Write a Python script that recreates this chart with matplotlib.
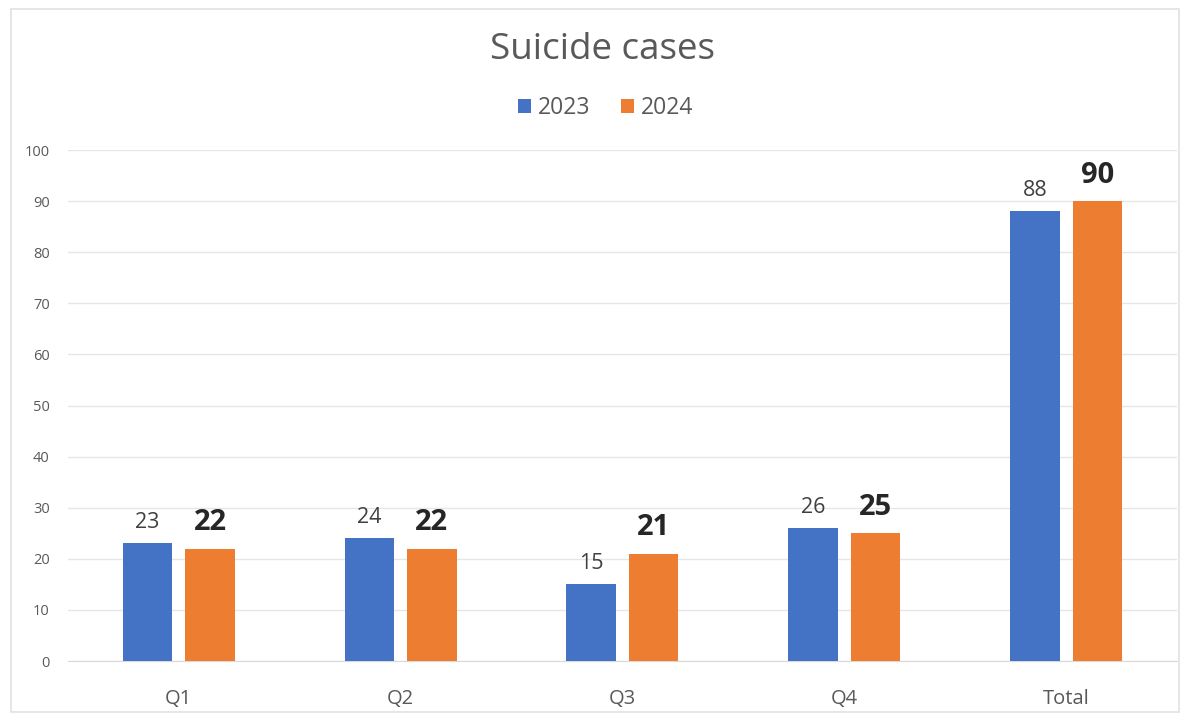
import numpy as np
import matplotlib.pyplot as plt
from matplotlib.patches import Rectangle

categories = ['Q1', 'Q2', 'Q3', 'Q4', 'Total']
cases_2023 = [23, 24, 15, 26, 88]
cases_2024 = [22, 22, 21, 25, 90]

plt.rcParams['font.family'] = ['Open Sans', 'DejaVu Sans']

fig = plt.figure(figsize=(11.83, 7.16), dpi=100)
ax = fig.add_axes([0.0574, 0.0768, 0.9375, 0.7137])

# light frame round the chart
fig.patches.append(Rectangle((0.009, 0.005), 0.988, 0.983, transform=fig.transFigure,
                             fill=False, edgecolor='#e2e2e2', linewidth=1.2))

x = np.arange(len(categories))
width = 0.223
off = 0.141

bars1 = ax.bar(x - off, cases_2023, width, color='#4472C4', label='2023', zorder=3)
bars2 = ax.bar(x + off, cases_2024, width, color='#ED7D31', label='2024', zorder=3)

for rect, v in zip(bars1, cases_2023):
    ax.text(rect.get_x() + rect.get_width() / 2, v + 2.0, f'{v}', ha='center', va='bottom',
            fontsize=15.5, color='#404040')
for rect, v in zip(bars2, cases_2024):
    ax.text(rect.get_x() + rect.get_width() / 2, v + 2.2, f'{v}', ha='center', va='bottom',
            fontsize=21, fontweight='bold', color='#262626')

ax.set_xlim(-0.5, 4.5)
ax.set_ylim(0, 100)
ax.set_yticks(range(0, 101, 10))
ax.set_xticks(x)
ax.set_xticklabels(categories, fontsize=14.5, color='#595959')
ax.tick_params(axis='y', labelsize=10.5, colors='#595959', length=0, pad=13)
ax.tick_params(axis='x', length=0, pad=20)
ax.grid(axis='y', color='#e6e6e6', linewidth=1, zorder=0)
for s in ['top', 'right', 'left']:
    ax.spines[s].set_visible(False)
ax.spines['bottom'].set_color('#d9d9d9')

fig.text(0.509, 0.93, 'Suicide cases', ha='center', va='center', fontsize=26.5, color='#595959')
fig.legend(loc='center', bbox_to_anchor=(0.512, 0.849), ncol=2, frameon=False,
           fontsize=16.5, handlelength=0.6, handleheight=0.6, handletextpad=0.3,
           columnspacing=1.3, labelcolor='#595959')

fig.savefig('out.png', dpi=100, facecolor='white')
